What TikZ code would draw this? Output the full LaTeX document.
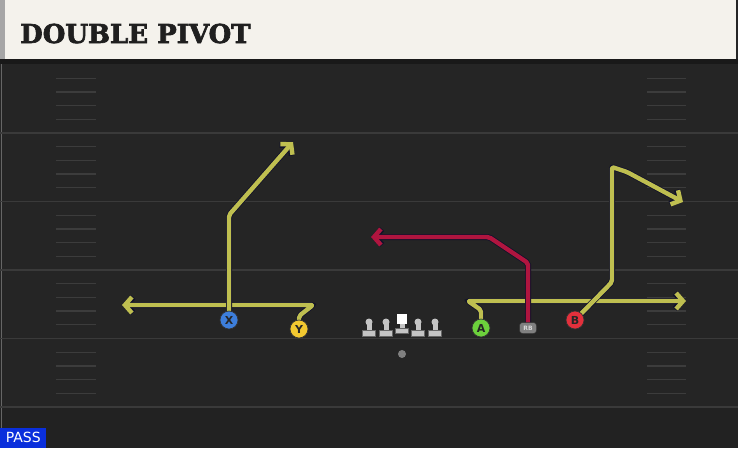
\documentclass[tikz,border=0pt]{standalone}
\usepackage{fontspec}
\setmainfont{DejaVu Sans}
\newfontfamily\titlefont[FakeBold=2.5]{DejaVu Serif}
\usetikzlibrary{arrows.meta}
\definecolor{fieldbg}{HTML}{252525}
\definecolor{headbg}{HTML}{F4F2EC}
\definecolor{yardln}{HTML}{3A3A3A}
\definecolor{hashln}{HTML}{3C3C3C}
\definecolor{routey}{HTML}{BFBF50}
\definecolor{router}{HTML}{B0153F}
\definecolor{outl}{HTML}{12122A}
\definecolor{pblue}{HTML}{3D7EDB}
\definecolor{pyellow}{HTML}{F2C830}
\definecolor{pgreen}{HTML}{6CD13C}
\definecolor{pred}{HTML}{E2303C}
\definecolor{linegray}{HTML}{C4C4C4}
\definecolor{passblue}{HTML}{0A2FDC}
\tikzset{
  route/.style={draw=#1, line width=4.4pt, line join=round,
    rounded corners=2pt,
    -{Straight Barb[length=7pt,width=16pt]},
    preaction={draw=outl, line width=6pt}},
  player/.style={circle, draw=black!80, line width=0.7pt, fill=#1,
    minimum size=18pt, inner sep=0pt, font=\bfseries\fontsize{11}{11}\selectfont, text=black!85},
  olhead/.style={circle, fill=linegray, minimum size=7pt, inner sep=0pt},
  olbase/.style={fill=linegray, draw=black!60, line width=0.3pt},
}
\begin{document}
\begin{tikzpicture}[x=1pt,y=-1pt]
\useasboundingbox (0,0) rectangle (738,448);
\fill[fieldbg] (0,0) rectangle (738,448);
\fill[fieldbg!92!black] (0,408) rectangle (738,448);
% header
\fill[headbg] (0,0) rectangle (736,59);
\fill[black!35] (0,0) rectangle (5,59);
\fill[black!90] (0,59) rectangle (738,64);
\draw[black!60, line width=0.6pt] (1.5,64) -- (1.5,448);
\node[anchor=base west, inner sep=0pt, font=\titlefont\bfseries\fontsize{26}{26}\selectfont, text=black!88] (title) at (20,43) {DOUBLE PIVOT};
% yard lines
\foreach \y in {133,201.5,270,338.5,407} {
  \draw[yardln, line width=1.5pt] (0,\y) -- (738,\y);
}
% hash marks
\foreach \b in {133,201.5,270,338.5,407} {
  \foreach \k in {1,2,3,4} {
    \draw[hashln, line width=1.3pt] (56,\b-13.7*\k) -- (96,\b-13.7*\k);
    \draw[hashln, line width=1.3pt] (647,\b-13.7*\k) -- (686,\b-13.7*\k);
  }
}
% player anchors
\coordinate (Xp) at (229,320);
\coordinate (Yp) at (299,329);
\coordinate (Ap) at (481,328);
\coordinate (Bp) at (575,320);
\coordinate (RBp) at (528,328);
% route waypoints
\coordinate (y1) at (299,316);
\coordinate (y2) at (313,305);
\coordinate (y3) at (122,305);
\coordinate (x1) at (229,215);
\coordinate (x2) at (293,142);
\coordinate (a1) at (481,310);
\coordinate (a2) at (468,301);
\coordinate (a3) at (686,301);
\coordinate (b1) at (612,282);
\coordinate (b2) at (612,167);
\coordinate (b3) at (627,172);
\coordinate (b4) at (683,202);
\coordinate (r1) at (528,263);
\coordinate (r2) at (489,237);
\coordinate (r3) at (371,237);
% routes
\draw[route=routey] (Yp) -- (y1) -- (y2) -- (y3);
\draw[route=routey] (Xp) -- (x1) -- (x2);
\draw[route=routey] (Ap) -- (a1) -- (a2) -- (a3);
\draw[route=routey] (Bp) -- (b1) -- (b2) -- (b3) -- (b4);
\draw[route=router] (RBp) -- (r1) -- (r2) -- (r3);
% offensive line
\foreach \x/\n in {369/lt,386/lg,418/rg,435/rt} {
  \fill[linegray] (\x-2.5,322) rectangle (\x+2.5,331);
  \draw[olbase] (\x-6.5,330) rectangle (\x+6.5,336);
  \node[olhead] (\n) at (\x,322) {};
}
\fill[linegray] (399.5,322) rectangle (404.5,329);
\draw[olbase] (395.5,328) rectangle (408.5,333.5);
\node[fill=white, minimum size=10pt, inner sep=0pt] (center) at (402,318.5) {};
\node[circle, fill=black!50, minimum size=8pt, inner sep=0pt] (ball) at (402,354) {};
% skill players
\node[player=pblue] (X) at (Xp) {X};
\node[player=pyellow] (Y) at (Yp) {Y};
\node[player=pgreen] (A) at (Ap) {A};
\node[player=pred] (B) at (Bp) {B};
\node[fill=black!50, draw=black!80, line width=0.5pt, rounded corners=3pt, minimum width=17pt, minimum height=11pt, inner sep=0pt, font=\bfseries\fontsize{6}{6}\selectfont, text=black!15] (RB) at (RBp) {RB};
% label
\node[fill=passblue, text=white, anchor=south west, minimum width=46pt, minimum height=20pt, inner sep=1pt, font=\fontsize{14}{14}\selectfont] (pass) at (0,448) {PASS};
\end{tikzpicture}
\end{document}
